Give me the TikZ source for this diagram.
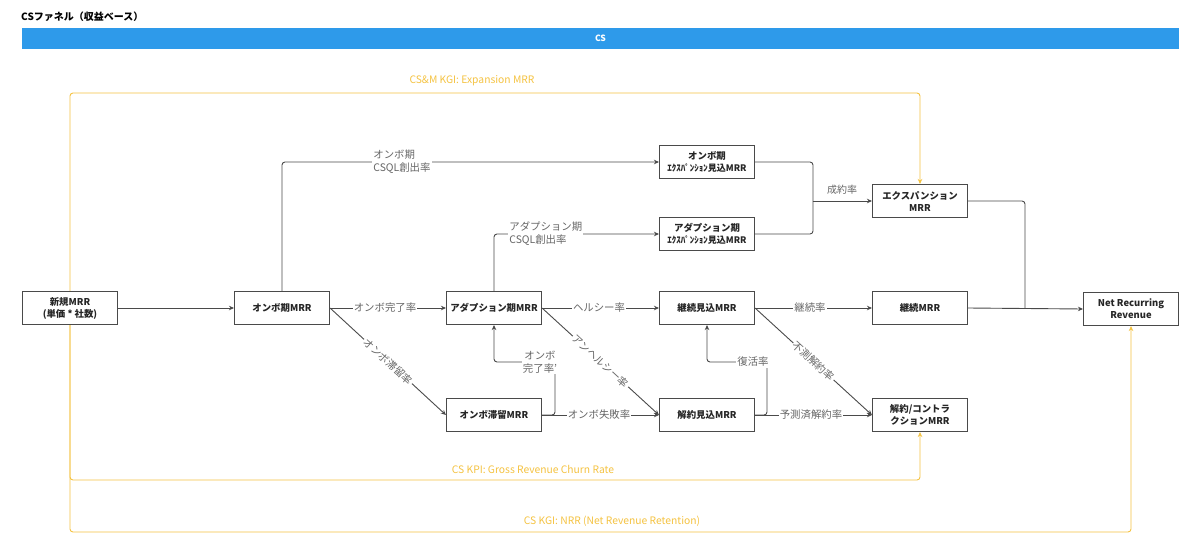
\documentclass[tikz,border=0pt]{standalone}
\usepackage{fontspec}
\setmainfont{Noto Sans CJK JP}
\usetikzlibrary{arrows.meta,calc}
\definecolor{boxline}{HTML}{4A4A4A}
\definecolor{lbl}{HTML}{666666}
\definecolor{gold}{HTML}{F5C342}
\definecolor{csblue}{HTML}{2E9AEA}
\begin{document}
\begin{tikzpicture}[x=1pt,y=-1pt,
 box/.style={draw=boxline,line width=1.1pt,minimum width=95pt,minimum height=33pt,align=center,font=\bfseries\fontsize{9.4}{12}\selectfont,text=black!85,inner sep=1pt,fill=white},
 conn/.style={draw=boxline,line width=0.9pt,rounded corners=3pt},
 arr/.style={conn,-{Stealth[length=5pt,width=4.5pt]}},
 lab/.style={fill=white,text=lbl,font=\fontsize{10.4}{13}\selectfont,inner sep=1.2pt,align=left},
 gl/.style={draw=gold,line width=0.9pt,rounded corners=3pt},
 garr/.style={gl,-{Stealth[length=5pt,width=4.5pt]}},
 glab/.style={text=gold,font=\fontsize{10.3}{12}\selectfont,inner sep=1pt},
 small/.style={font=\bfseries\fontsize{8.6}{11}\selectfont},
]
\useasboundingbox[fill=white] (0,0) rectangle (1200,554);

% title and band
\node[anchor=west,font=\bfseries\fontsize{10}{12}\selectfont,inner sep=0pt] (title) at (21,17) {CSファネル（収益ベース）};
\node[fill=csblue,minimum width=1157pt,minimum height=21pt,inner sep=0pt,text=white,font=\bfseries\fontsize{8.6}{10}\selectfont] (csbar) at (600.5,38.5) {CS};

% nodes
\node[box] (shinki) at (70,308) {新規MRR\\(単価 * 社数)};
\node[box] (onbo) at (282,308) {オンボ期MRR};
\node[box] (adopt) at (494,308) {アダプション期MRR};
\node[box] (keimi) at (707,308) {継続見込MRR};
\node[box] (keizoku) at (920,308) {継続MRR};
\node[box] (nrr) at (1131,309) {Net Recurring\\Revenue};
\node[box] (tairyu) at (494,415) {オンボ滞留MRR};
\node[box] (kaimi) at (707,415) {解約見込MRR};
\node[box] (contract) at (920,415) {解約/コントラ\\クションMRR};
\node[box] (onboexp) at (707,162) {オンボ期\\{\small ｴｸｽﾊﾟﾝｼｮﾝ見込MRR}};
\node[box] (adoptexp) at (707,234) {アダプション期\\{\small ｴｸｽﾊﾟﾝｼｮﾝ見込MRR}};
\node[box] (expmrr) at (920,201) {エクスパンション\\MRR};

% yellow KPI lines
\coordinate (gt) at (70,93);
\coordinate (gk) at (70,480);
\coordinate (gn) at (70,532);
\draw[garr] (shinki.north) -- (gt) -| (expmrr.north);
\draw[garr] (shinki.south) -- (gk) -| (contract.south);
\draw[garr] (shinki.south) -- (gn) -| (nrr.south);
\node[glab] (g1) at (472,81) {CS\&M KGI: Expansion MRR};
\node[glab] (g2) at (533,469) {CS KPI: Gross Revenue Churn Rate};
\node[glab] (g3) at (612,521) {CS KGI: NRR (Net Revenue Retention)};

% connectors
\draw[arr] (shinki.east) -- (onbo.west);
\draw[arr] (onbo.east) -- (adopt.west);
\draw[arr] (onbo.north) |- (onboexp.west);
\draw[arr] (adopt.north) |- (adoptexp.west);
\draw[arr] (onbo.east) -- node[lab,sloped] (l_tairyu) {オンボ滞留率} (tairyu.west);
\draw[arr] (adopt.east) -- node[lab,sloped] (l_unh) {アンヘルシー率} (kaimi.west);
\draw[arr] (adopt.east) -- (keimi.west);
\draw[arr] (tairyu.east) -- (kaimi.west);
\coordinate (b1) at (555,362);
\draw[arr] (tairyu.east) -| (b1) -| (adopt.south);
\draw[arr] (keimi.east) -- (keizoku.west);
\draw[arr] (keimi.east) -- node[lab,sloped] (l_fusoku) {不測解約率} (contract.west);
\draw[arr] (kaimi.east) -- (contract.west);
\coordinate (b2) at (767,362);
\draw[arr] (kaimi.east) -| (b2) -| (keimi.south);
\coordinate (merge) at (813,201);
\draw[conn] (onboexp.east) -| (merge);
\draw[conn] (adoptexp.east) -| (merge);
\draw[arr] (merge) -- (expmrr.west);
\coordinate (j2) at (1025,308);
\draw[conn] (expmrr.east) -| (j2);
\draw[arr] (keizoku.east) -- (nrr.west);

% labels
\node[lab,anchor=west] (l_onbocsql) at (372,162) {オンボ期\\CSQL創出率};
\node[lab,anchor=west] (l_adcsql) at (508,234) {アダプション期\\CSQL創出率};
\node[lab] (l_onbokan) at (385,308) {オンボ完了率};
\node[lab] (l_healthy) at (599,308) {ヘルシー率};
\node[lab] (l_keizoku) at (810,308) {継続率};
\node[lab] (l_fail) at (599,415) {オンボ失敗率};
\node[lab] (l_yosoku) at (811,415) {予測済解約率};
\node[lab,align=center] (l_onbokan2) at (540,362) {オンボ\\完了率'};
\node[lab] (l_fukkatsu) at (753,362) {復活率};
\node[text=lbl,font=\fontsize{10}{12}\selectfont,inner sep=1pt] (l_seiyaku) at (842,190) {成約率};
\end{tikzpicture}
\end{document}
